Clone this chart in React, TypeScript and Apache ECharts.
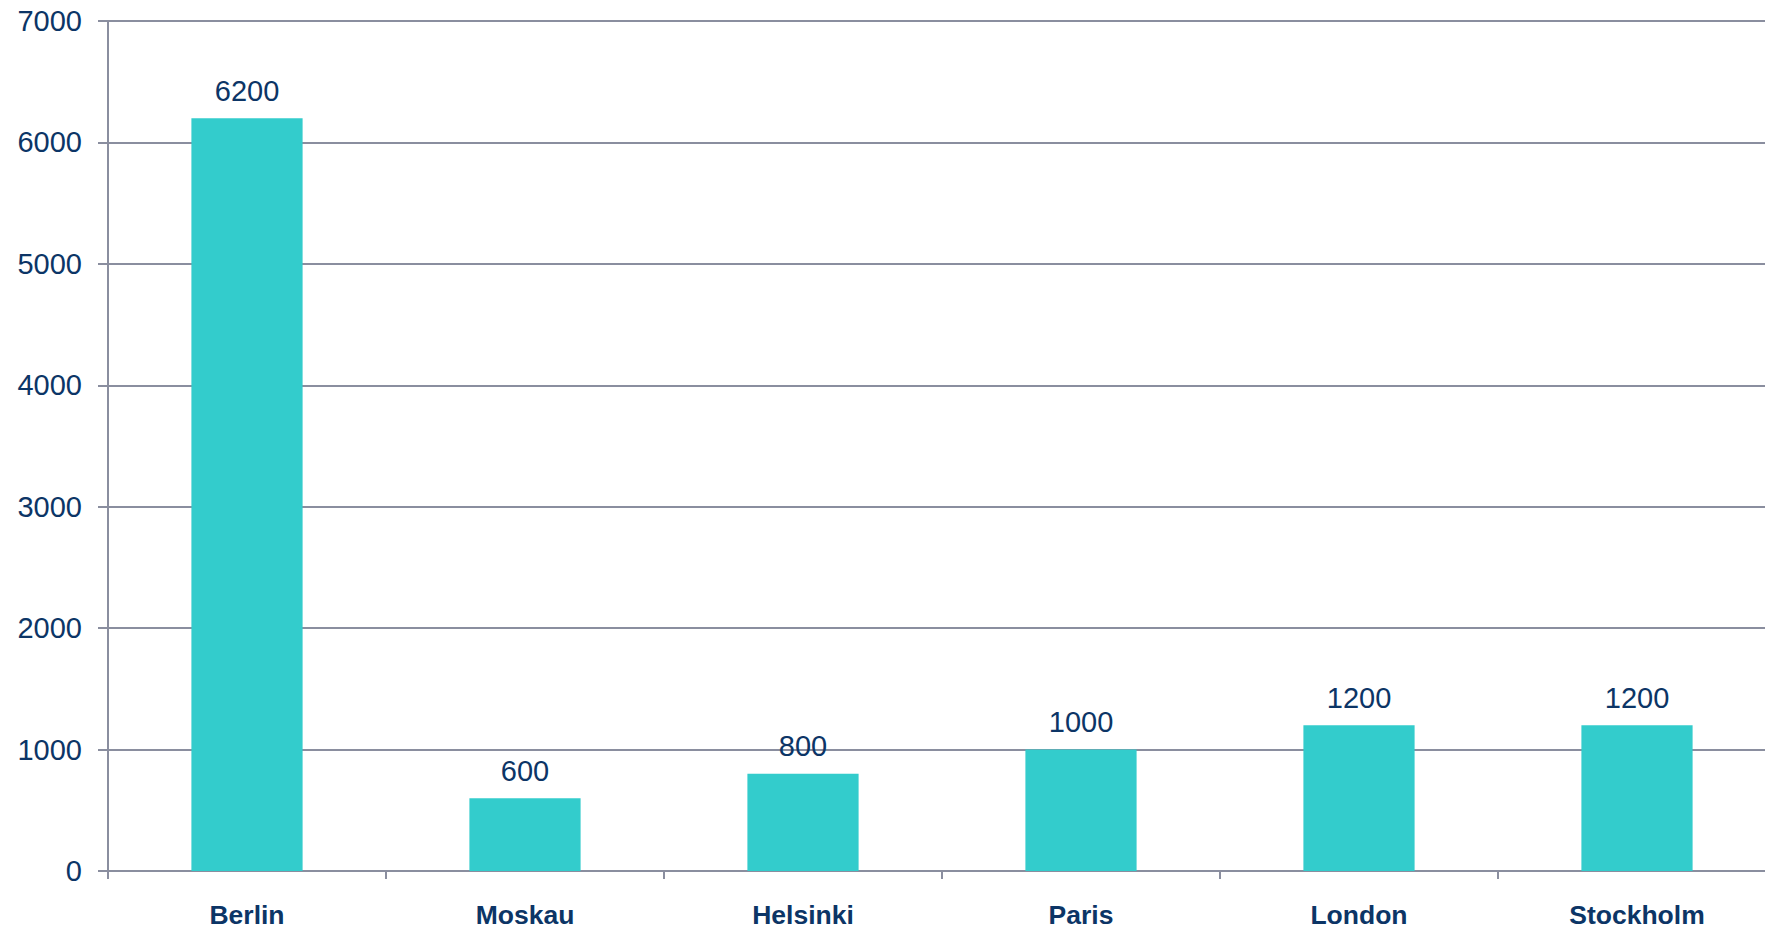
import React, { useEffect, useRef } from "react";
import * as echarts from "echarts";

const categories = ["Berlin", "Moskau", "Helsinki", "Paris", "London", "Stockholm"];
const values = [6200, 600, 800, 1000, 1200, 1200];
const yMin = 0;
const yMax = 7000;
const yInterval = 1000;

const textColor = "#0c3566";
const lineColor = "#8a8e9f";
const barColor = "#33CCCC";
const fontFamily = "'Liberation Sans', Arial, sans-serif";

export default function App() {
  const ref = useRef<HTMLDivElement>(null);
  useEffect(() => {
    if (!ref.current) return;
    const chart = echarts.init(ref.current, undefined, { renderer: "svg" });
    chart.setOption({
      animation: false,
      backgroundColor: "#ffffff",
      grid: { left: 108, top: 21, bottom: 58, right: 0, containLabel: false },
      xAxis: {
        type: "category",
        data: categories,
        axisLine: { lineStyle: { color: lineColor, width: 2 } },
        axisTick: { show: true, length: 8, lineStyle: { color: lineColor, width: 2 } },
        axisLabel: {
          color: textColor,
          fontFamily,
          fontSize: 26.5,
          fontWeight: "bold",
          margin: 30,
          interval: 0,
        },
      },
      yAxis: {
        type: "value",
        min: yMin,
        max: yMax,
        interval: yInterval,
        axisLine: { show: true, lineStyle: { color: lineColor, width: 2 } },
        axisTick: { show: true, length: 10, lineStyle: { color: lineColor, width: 2 } },
        splitLine: { show: true, lineStyle: { color: lineColor, width: 2 } },
        axisLabel: {
          color: textColor,
          fontFamily,
          fontSize: 29,
          margin: 26,
          formatter: (v: number) => String(v),
        },
      },
      series: [
        {
          type: "bar",
          data: values,
          barWidth: "40%",
          itemStyle: { color: barColor },
          label: {
            show: true,
            position: "top",
            distance: 13,
            color: textColor,
            fontFamily,
            fontSize: 29,
          },
        },
      ],
    });
    return () => chart.dispose();
  }, []);
  return (
    <div style={{ position: "fixed", left: 0, top: 0, width: 1765, height: 929, overflow: "hidden", background: "#fff" }}>
      <div ref={ref} style={{ position: "absolute", left: 0, top: 0, width: 1776, height: 929 }} />
    </div>
  );
}
